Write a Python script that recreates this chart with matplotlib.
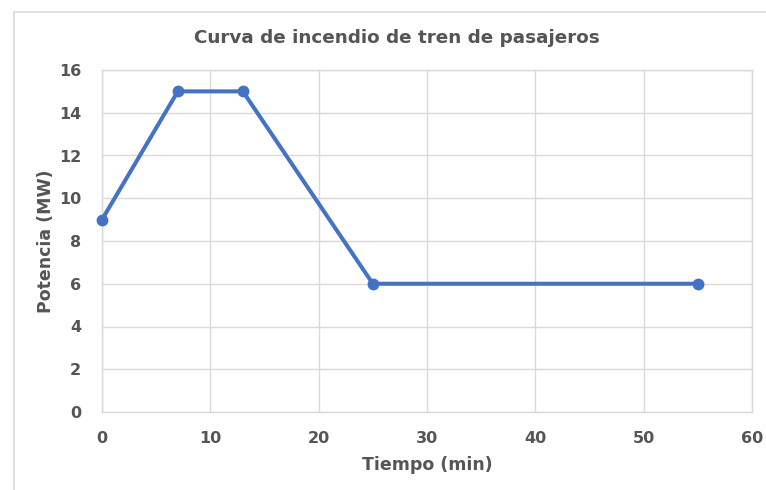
import matplotlib.pyplot as plt
from matplotlib.patches import Rectangle

# Data
tiempo = [0, 7, 13, 25, 55]
potencia = [9, 15, 15, 6, 6]
x_ticks = [0, 10, 20, 30, 40, 50, 60]
y_ticks = [0, 2, 4, 6, 8, 10, 12, 14, 16]

text_color = '#555555'
grid_color = '#d9d9d9'
line_color = '#4472c4'

plt.rcParams['font.family'] = ['DejaVu Sans']
plt.rcParams['font.weight'] = 'bold'

fig = plt.figure(figsize=(7.66, 4.9), dpi=100)

# chart border (Excel chart area)
fig.patches.append(Rectangle((14 / 766, -0.02), 1.0, 1 - 12.5 / 490 + 0.02,
                             transform=fig.transFigure, fill=False,
                             edgecolor=grid_color, linewidth=1.2))

ax = fig.add_axes([102 / 766, 1 - 412 / 490, 650 / 766, 342 / 490])
ax.plot(tiempo, potencia, color=line_color, linewidth=2.9,
        marker='o', markersize=7.5, zorder=3, clip_on=False)

ax.set_xlim(0, 60)
ax.set_ylim(0, 16)
ax.set_xticks(x_ticks)
ax.set_yticks(y_ticks)
ax.grid(True, color=grid_color, linewidth=1)
ax.set_axisbelow(True)
for s in ax.spines.values():
    s.set_color(grid_color)
    s.set_linewidth(1)
ax.tick_params(length=0, labelsize=11.5, labelcolor=text_color)
ax.tick_params(axis='x', pad=14)
ax.tick_params(axis='y', pad=15)

ax.set_xlabel('Tiempo (min)', fontsize=12.5, fontweight='bold',
              color=text_color, labelpad=7)
ax.set_ylabel('Potencia (MW)', fontsize=12.5, fontweight='bold',
              color=text_color, labelpad=3)
fig.text(0.518, 1 - 38 / 490, 'Curva de incendio de tren de pasajeros',
         ha='center', va='center', fontsize=13.2, fontweight='bold',
         color=text_color)

fig.savefig('out.png', dpi=100)
